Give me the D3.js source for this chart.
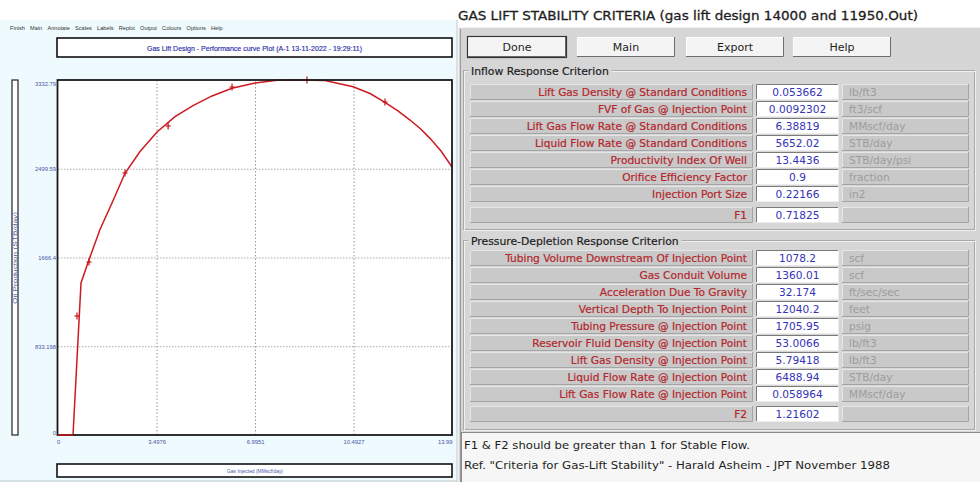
<!DOCTYPE html>
<html><head><meta charset="utf-8">
<script src="https://cdn.jsdelivr.net/npm/d3@7/dist/d3.min.js"></script>
<style>body{margin:0;background:#fff}svg{display:block}</style>
</head><body><svg id="c" width="980" height="482"></svg>
<script>
// ---------- chart data ----------
const gasInjected = [0, 0.533, 0.817, 1.076, 1.491, 1.918, 2.379, 2.912, 3.516, 4.155, 4.794, 5.469, 6.179, 6.996, 7.777, 8.594, 9.48, 10.48, 11.08, 11.61, 12.07, 12.50, 12.86, 13.21, 13.60, 13.99];
const oilProduction = [0, 0, 1427, 1627, 1929, 2178, 2457, 2661, 2845, 2988, 3093, 3183, 3255, 3305, 3330, 3332.79, 3328, 3270, 3206, 3123, 3042, 2957, 2877, 2785, 2666, 2516];
const markerGas = [0.675, 1.10, 2.38, 3.91, 6.18, 8.84, 11.61];
const markerOil = [1117, 1624, 2460, 2901, 3267, 3332, 3126];
const xTicks = [0, 3.4976, 6.9951, 10.4927, 13.9902];
const xTickLabels = ["0", "3.4976", "6.9951", "10.4927", "13.99"];
const yTicks = [0, 833.198, 1666.4, 2499.59, 3332.79];
const yTickLabels = ["0", "833.198", "1666.4", "2499.59", "3332.79"];
const menuItems = ["Finish", "Main", "Annotate", "Scales", "Labels", "Replot", "Output", "Colours", "Options", "Help"];
const chartTitle = "Gas Lift Design - Performance curve Plot (A-1 13-11-2022 - 19:29:11)";
const xTitle = "Gas Injected (MMscf/day)";
const yTitle = "Oil Production (STB/day)";

// ---------- dialog data ----------
const dialogTitle = "GAS LIFT STABILITY CRITERIA (gas lift design 14000 and 11950.Out)";
const buttons = ["Done", "Main", "Export", "Help"];
const inflowTitle = "Inflow Response Criterion";
const inflowLabels = ["Lift Gas Density @ Standard Conditions", "FVF of Gas @ Injection Point", "Lift Gas Flow Rate @ Standard Conditions", "Liquid Flow Rate @ Standard Conditions", "Productivity Index Of Well", "Orifice Efficiency Factor", "Injection Port Size"];
const inflowValues = ["0.053662", "0.0092302", "6.38819", "5652.02", "13.4436", "0.9", "0.22166"];
const inflowUnits = ["lb/ft3", "ft3/scf", "MMscf/day", "STB/day", "STB/day/psi", "fraction", "in2"];
const f1Value = "0.71825";
const depletionTitle = "Pressure-Depletion Response Criterion";
const depletionLabels = ["Tubing Volume Downstream Of Injection Point", "Gas Conduit Volume", "Acceleration Due To Gravity", "Vertical Depth To Injection Point", "Tubing Pressure @ Injection Point", "Reservoir Fluid Density @ Injection Point", "Lift Gas Density @ Injection Point", "Liquid Flow Rate @ Injection Point", "Lift Gas Flow Rate @ Injection Point"];
const depletionValues = ["1078.2", "1360.01", "32.174", "12040.2", "1705.95", "53.0066", "5.79418", "6488.94", "0.058964"];
const depletionUnits = ["scf", "scf", "ft/sec/sec", "feet", "psig", "lb/ft3", "lb/ft3", "STB/day", "MMscf/day"];
const f2Value = "1.21602";
const notes = ["F1 & F2 should be greater than 1 for Stable Flow.", "Ref. \"Criteria for Gas-Lift Stability\" - Harald Asheim - JPT November 1988"];

// ---------- drawing ----------
const svg = d3.select("#c");
const chartFont = "Liberation Sans, Arial, sans-serif";
const dlgFont = "DejaVu Sans, Verdana, sans-serif";
const axisBlue = "#4a55a8";

// left panel background
svg.append("rect").attr("x", 0).attr("y", 0).attr("width", 458).attr("height", 482).attr("fill", "#ffffff");
svg.append("rect").attr("x", 0).attr("y", 20).attr("width", 457).attr("height", 461).attr("fill", "#eefafd");
svg.append("line").attr("x1", 0).attr("x2", 457).attr("y1", 481).attr("y2", 481).attr("stroke", "#b8c4c8");
svg.append("line").attr("x1", 457).attr("x2", 457).attr("y1", 20).attr("y2", 482).attr("stroke", "#c0c8cc");

// menu
const menu = svg.append("g").attr("font-family", chartFont).attr("font-size", 5.6).attr("fill", "#333");
let mx = 10;
menuItems.forEach(m => {
  const t = menu.append("text").attr("x", mx).attr("y", 30).text(m);
  mx += t.node().getComputedTextLength() + 5.2;
});

// title box
svg.append("rect").attr("x", 57).attr("y", 38).attr("width", 395).attr("height", 19).attr("fill", "#fff").attr("stroke", "#111").attr("stroke-width", 1.6);
svg.append("text").attr("x", 254.5).attr("y", 50.5).attr("text-anchor", "middle").attr("font-family", chartFont)
  .attr("font-size", 7.8).attr("fill", "#2a2aa8").attr("stroke", "#2a2aa8").attr("stroke-width", 0.15)
  .attr("textLength", 215).attr("lengthAdjust", "spacingAndGlyphs").text(chartTitle);

// plot
const X0 = 58, X1 = 452, Y0 = 435, Y1 = 80;
const x = d3.scaleLinear().domain([0, 13.9902]).range([X0, X1]);
const y = d3.scaleLinear().domain([0, 3332.79]).range([Y0, Y1]);
svg.append("rect").attr("x", X0).attr("y", Y1).attr("width", X1 - X0).attr("height", Y0 - Y1).attr("fill", "#fff");

// grid
const gridX = svg.append("g").attr("transform", `translate(0,${Y0})`)
  .call(d3.axisBottom(x).tickValues(xTicks.slice(1, -1)).tickSize(-(Y0 - Y1)).tickFormat(""));
gridX.select(".domain").remove();
gridX.selectAll("line").attr("stroke", "#999").attr("stroke-dasharray", "1.5,2");
const gridY = svg.append("g").attr("transform", `translate(${X0},0)`)
  .call(d3.axisLeft(y).tickValues(yTicks.slice(1, -1)).tickSize(-(X1 - X0)).tickFormat(""));
gridY.select(".domain").remove();
gridY.selectAll("line").attr("stroke", "#aaa").attr("stroke-dasharray", "1.5,1.5");

// axis labels
const xAx = svg.append("g").attr("transform", `translate(0,${Y0})`)
  .call(d3.axisBottom(x).tickValues(xTicks).tickSize(0).tickPadding(5).tickFormat((d, i) => xTickLabels[i]));
xAx.select(".domain").remove();
xAx.selectAll("text").attr("font-family", chartFont).attr("font-size", 5.8).attr("fill", axisBlue)
  .attr("text-anchor", (d, i) => i === xTicks.length - 1 ? "end" : "middle");
const yAx = svg.append("g").attr("transform", `translate(${X0 - 1},0)`)
  .call(d3.axisLeft(y).tickValues(yTicks).tickSize(0).tickPadding(1).tickFormat((d, i) => yTickLabels[i]));
yAx.select(".domain").remove();
yAx.selectAll("text").attr("font-family", chartFont).attr("font-size", 5.8).attr("fill", axisBlue)
  .attr("dy", (d, i) => i === 0 ? "-0.05em" : (i === yTicks.length - 1 ? "0.9em" : "0.32em"));

// curve
const pts = gasInjected.map((g, i) => [g, oilProduction[i]]);
svg.append("path").datum(pts).attr("fill", "none").attr("stroke", "#cc1a20").attr("stroke-width", 1.5)
  .attr("d", d3.line().x(d => x(d[0])).y(d => y(d[1])).curve(d3.curveLinear));
// markers
const mk = svg.append("g").attr("stroke", "#c8141a").attr("stroke-width", 1.2);
markerGas.forEach((g, i) => {
  const cx = x(g), cy = y(markerOil[i]);
  mk.append("line").attr("x1", cx).attr("x2", cx).attr("y1", cy - 3.5).attr("y2", cy + 3.5);
  mk.append("line").attr("x1", cx - 2.5).attr("x2", cx + 2.5).attr("y1", cy).attr("y2", cy);
});

// frame
svg.append("rect").attr("x", X0 - 0.5).attr("y", Y1).attr("width", X1 - X0 + 0.5).attr("height", Y0 - Y1).attr("fill", "none").attr("stroke", "#1a1a1a").attr("stroke-width", 1.8);
// flat start segment of the curve drawn over the frame
svg.append("path").datum(pts.slice(0, 2)).attr("fill", "none").attr("stroke", "#cc1a20").attr("stroke-width", 1.5)
  .attr("d", d3.line().x(d => x(d[0])).y(d => y(d[1])));

// y title box
svg.append("rect").attr("x", 12).attr("y", 80).attr("width", 6).attr("height", 355).attr("fill", "#fff").attr("stroke", "#222").attr("stroke-width", 1.2);
svg.append("text").attr("transform", "translate(16.8,258) rotate(-90)").attr("text-anchor", "middle")
  .attr("font-family", chartFont).attr("font-size", 5.5).attr("fill", axisBlue)
  .attr("textLength", 92).attr("lengthAdjust", "spacingAndGlyphs").text(yTitle);

// x title box
svg.append("rect").attr("x", 57).attr("y", 464).attr("width", 395).attr("height", 13).attr("fill", "#fff").attr("stroke", "#111").attr("stroke-width", 1.6);
svg.append("text").attr("x", 255).attr("y", 472.8).attr("text-anchor", "middle").attr("font-family", chartFont)
  .attr("font-size", 6).attr("fill", axisBlue).attr("textLength", 56).attr("lengthAdjust", "spacingAndGlyphs").text(xTitle);

// ---------- dialog ----------
const D = svg.append("g").attr("font-family", dlgFont);
D.append("rect").attr("x", 458).attr("y", 0).attr("width", 522).attr("height", 27).attr("fill", "#fff");
D.append("text").attr("x", 458).attr("y", 20).attr("font-size", 12.5).attr("fill", "#1e1e1e").attr("stroke", "#1e1e1e").attr("stroke-width", 0.3)
  .attr("textLength", 460).attr("lengthAdjust", "spacingAndGlyphs").text(dialogTitle);
D.append("rect").attr("x", 458).attr("y", 27).attr("width", 522).attr("height", 455).attr("fill", "#d6d6d6");
D.append("line").attr("x1", 458.5).attr("x2", 458.5).attr("y1", 27).attr("y2", 482).attr("stroke", "#f2f2f2");
D.append("line").attr("x1", 458).attr("x2", 980).attr("y1", 27.5).attr("y2", 27.5).attr("stroke", "#f2f2f2");
D.append("line").attr("x1", 460.5).attr("x2", 460.5).attr("y1", 29).attr("y2", 482).attr("stroke", "#9a9a9a");

function bevel(g, bx, by, w, h, fill, tl, br) {
  g.append("rect").attr("x", bx).attr("y", by).attr("width", w).attr("height", h).attr("fill", fill);
  g.append("path").attr("d", `M${bx + 0.5},${by + h}V${by + 0.5}H${bx + w}`).attr("fill", "none").attr("stroke", tl);
  g.append("path").attr("d", `M${bx},${by + h - 0.5}H${bx + w - 0.5}V${by}`).attr("fill", "none").attr("stroke", br);
}

// buttons
const btnX = [468, 577, 686, 793];
buttons.forEach((b, i) => {
  bevel(D, btnX[i], 37, 98, 20, "#f4f4f4", "#ffffff", "#6e6e6e");
  if (i === 0) D.append("rect").attr("x", btnX[i] - 0.5).attr("y", 36.5).attr("width", 99).attr("height", 21).attr("fill", "none").attr("stroke", "#333").attr("stroke-width", 1.2);
  D.append("text").attr("x", btnX[i] + 49).attr("y", 51).attr("text-anchor", "middle").attr("font-size", 11).attr("fill", "#1e1e1e").text(b);
});

// group boxes
function group(gy, gh, title) {
  D.append("rect").attr("x", 463.5).attr("y", gy + 0.5).attr("width", 511).attr("height", gh).attr("fill", "none").attr("stroke", "#a8a8a8");
  D.append("rect").attr("x", 464.5).attr("y", gy + 1.5).attr("width", 511).attr("height", gh).attr("fill", "none").attr("stroke", "#f0f0f0");
  const t = D.append("text").attr("x", 471).attr("y", gy + 4.5).attr("font-size", 10.8).attr("fill", "#1e1e1e").attr("stroke", "#1e1e1e").attr("stroke-width", 0.2).text(title);
  const w = t.node().getComputedTextLength();
  D.insert("rect", "text:last-child").attr("x", 468).attr("y", gy - 3).attr("width", w + 6).attr("height", 8).attr("fill", "#d6d6d6");
}
function row(ry, label, value, unit) {
  bevel(D, 470, ry, 283, 16, "#c9c9c9", "#e6e6e6", "#a4a4a4");
  bevel(D, 756, ry, 83, 16, "#ffffff", "#7a7a7a", "#ececec");
  bevel(D, 842, ry, 127, 16, "#c9c9c9", "#e6e6e6", "#a4a4a4");
  D.append("text").attr("x", 747).attr("y", ry + 12).attr("text-anchor", "end").attr("font-size", 10.6).attr("fill", "#b3262b").attr("stroke", "#b3262b").attr("stroke-width", 0.2).text(label);
  D.append("text").attr("x", 797.5).attr("y", ry + 12).attr("text-anchor", "middle").attr("font-size", 10.6).attr("fill", "#3434b8").text(value);
  if (unit) D.append("text").attr("x", 849).attr("y", ry + 12).attr("font-size", 10.6).attr("fill", "#9c9c9c").text(unit);
}
group(70, 159, inflowTitle);
inflowLabels.forEach((l, i) => row(84 + 17 * i, l, inflowValues[i], inflowUnits[i]));
row(207, "F1", f1Value, "");
group(240, 189, depletionTitle);
depletionLabels.forEach((l, i) => row(250 + 17 * i, l, depletionValues[i], depletionUnits[i]));
row(406, "F2", f2Value, "");

// notes area
D.append("rect").attr("x", 461).attr("y", 432).attr("width", 519).attr("height", 50).attr("fill", "#f6f6f6");
D.append("line").attr("x1", 461).attr("x2", 980).attr("y1", 432.5).attr("y2", 432.5).attr("stroke", "#8a8a8a");
D.append("line").attr("x1", 461.5).attr("x2", 461.5).attr("y1", 432).attr("y2", 482).attr("stroke", "#8a8a8a");
D.append("text").attr("x", 464).attr("y", 449).attr("font-size", 10.6).attr("fill", "#1e1e1e").attr("textLength", 286).attr("lengthAdjust", "spacingAndGlyphs").text(notes[0]);
D.append("text").attr("x", 464).attr("y", 469).attr("font-size", 10.6).attr("fill", "#1e1e1e").attr("textLength", 426).attr("lengthAdjust", "spacingAndGlyphs").text(notes[1]);
</script></body></html>
